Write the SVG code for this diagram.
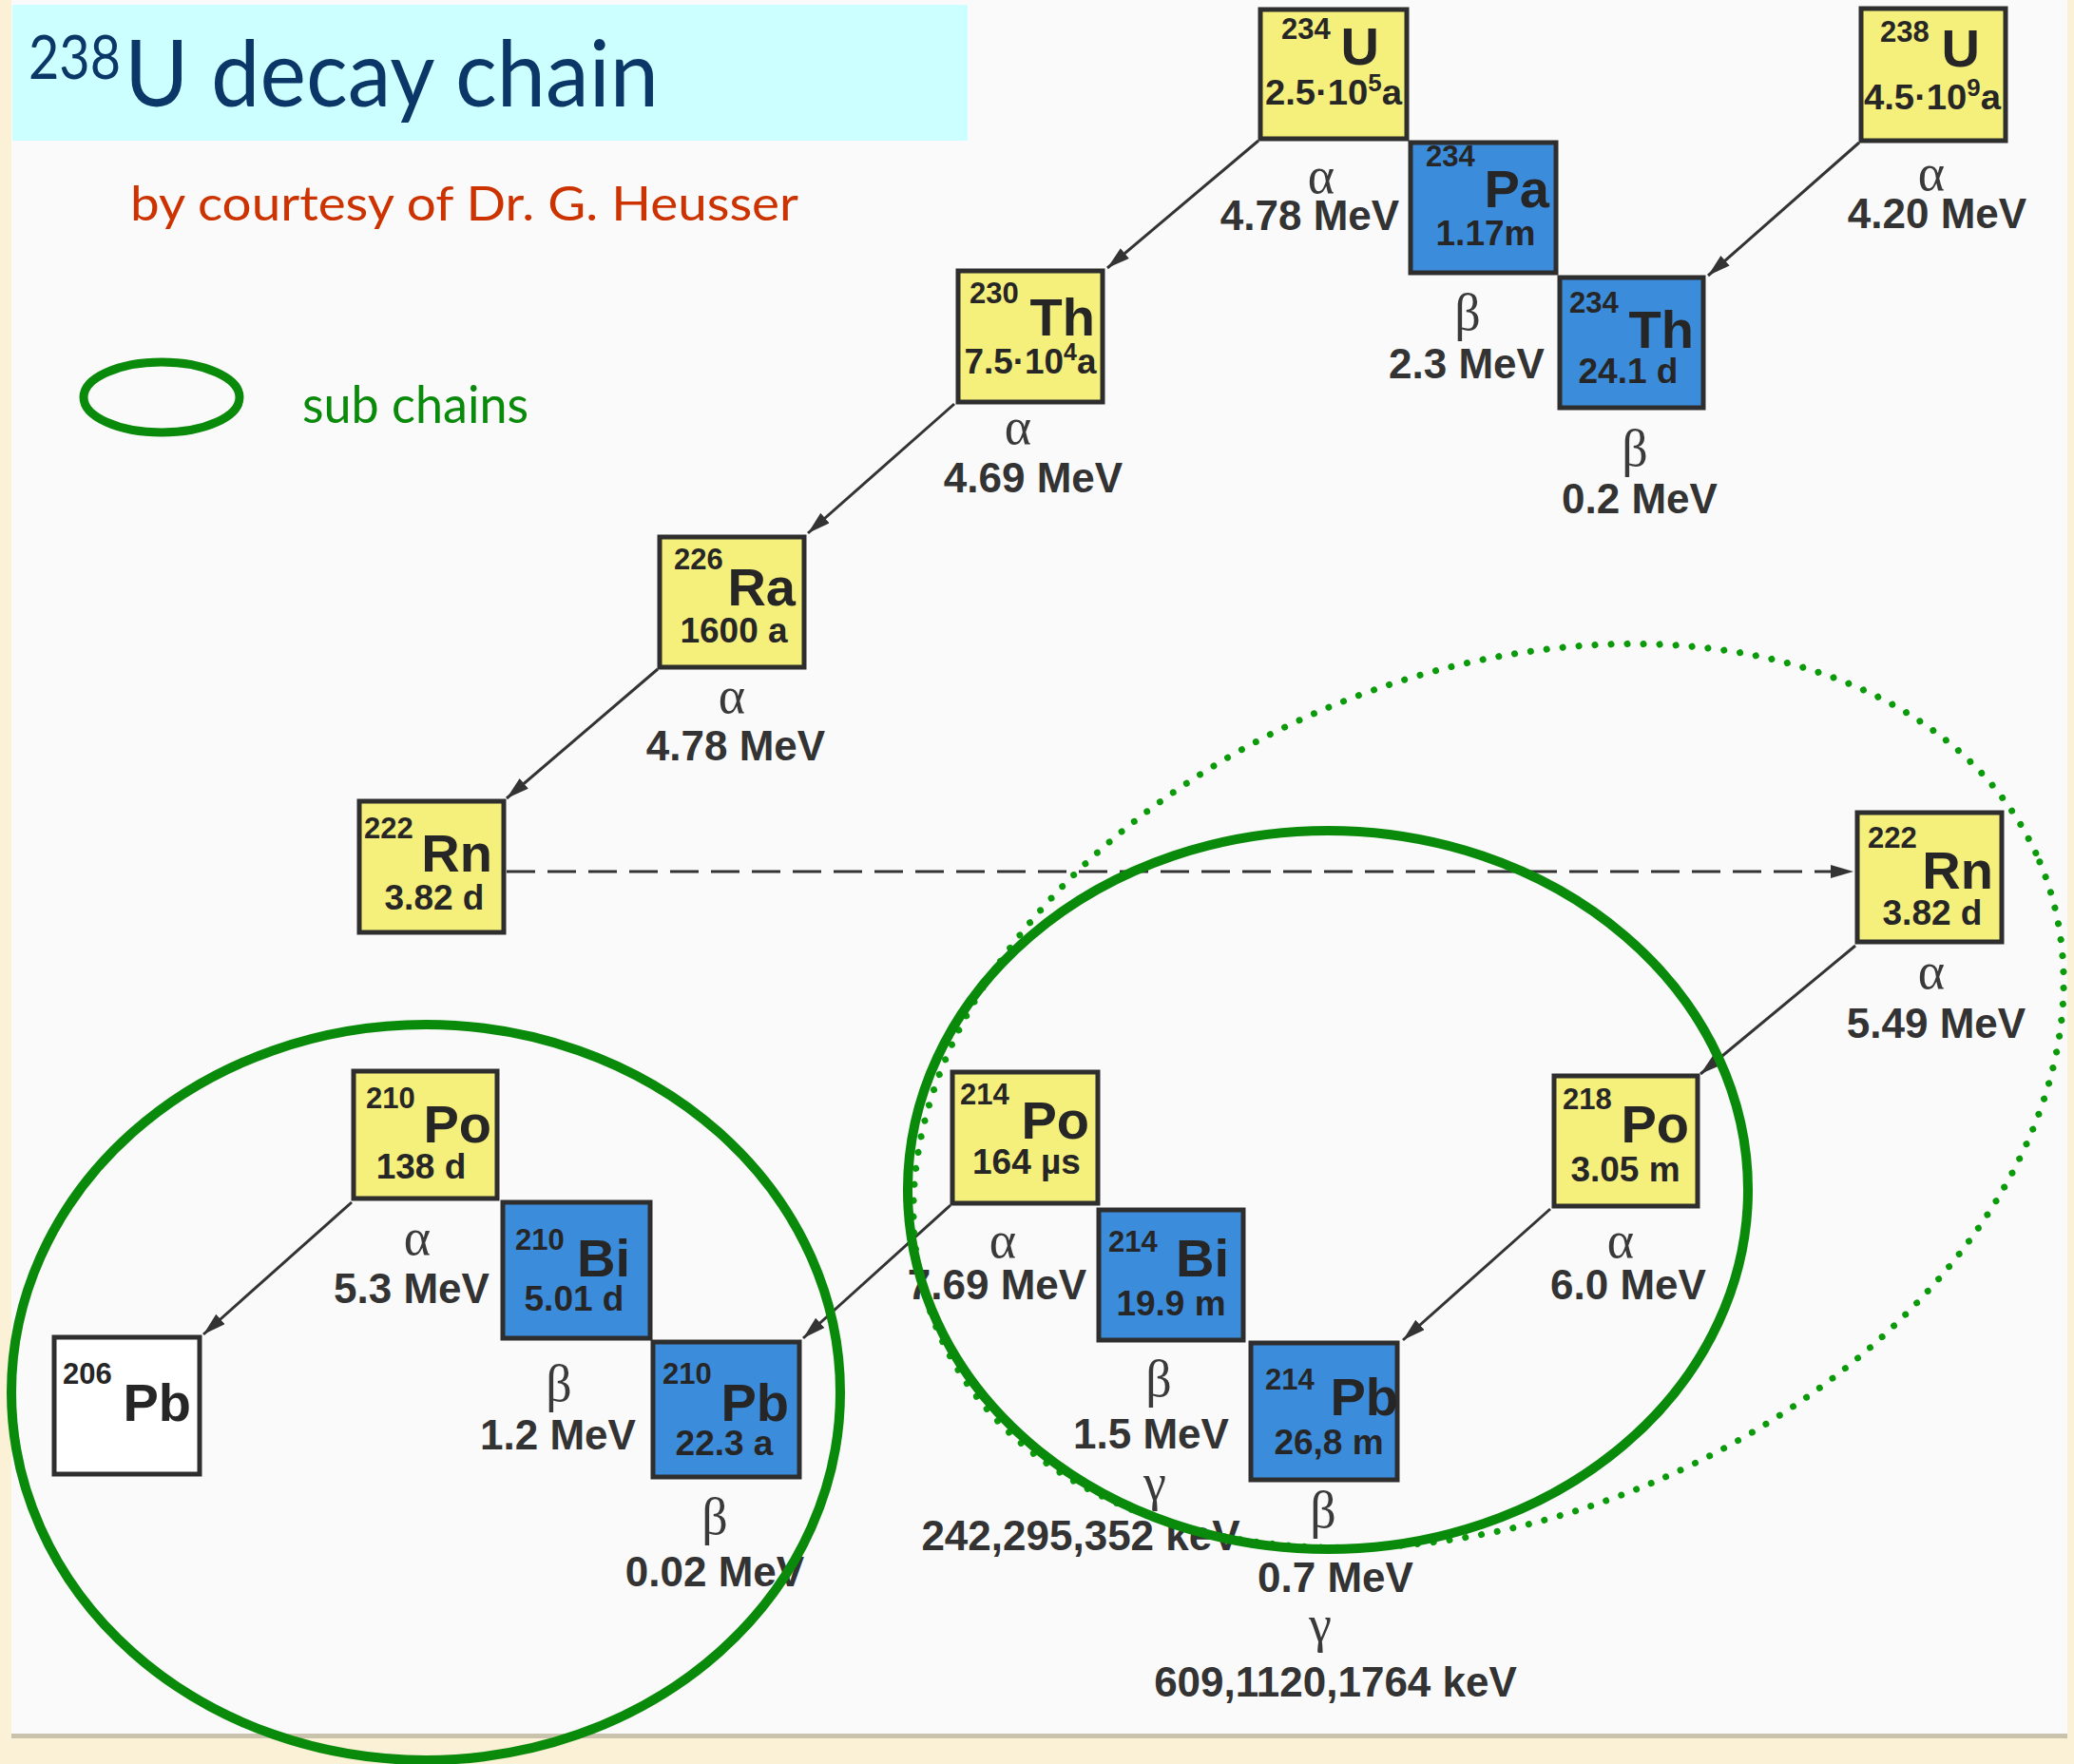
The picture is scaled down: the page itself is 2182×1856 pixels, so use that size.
<svg xmlns="http://www.w3.org/2000/svg" width="2182" height="1856" viewBox="0 0 2182 1856">
<defs>
<style>
.box{stroke:#2e2e2e;stroke-width:5}
.y{fill:#f5ef7c}
.b{fill:#3c8cdc}
.w{fill:#ffffff}
.t{font-family:"Liberation Sans",Arial,sans-serif;font-weight:bold;fill:#262626}
.sup{font-size:31px}
.sym{font-size:56px;text-anchor:end}
.hl{font-size:37px;text-anchor:middle}
.hs{font-size:25px}
.lbl{font-family:"Liberation Sans",Arial,sans-serif;font-weight:bold;font-size:44px;fill:#333;text-anchor:middle}
.gr{font-family:"Liberation Serif","Times New Roman",serif;font-size:54px;fill:#3a3a3a;text-anchor:middle}
.arr{stroke:#333;stroke-width:3;fill:none;marker-end:url(#ah)}
.dash{stroke:#333;stroke-width:3;fill:none;stroke-dasharray:30 13;marker-end:url(#ah)}
.ring{fill:none;stroke:#0a8a0a;stroke-width:10}
.dots{fill:none;stroke:#0a9a0a;stroke-width:7;stroke-linecap:round;stroke-dasharray:0 17}
</style>
<marker id="ah" markerUnits="userSpaceOnUse" markerWidth="26" markerHeight="16" refX="24" refY="7" orient="auto">
<path d="M0,0 L24,7 L0,14 z" fill="#333"/>
</marker>
</defs>

<!-- page background -->
<rect x="0" y="0" width="2182" height="1856" fill="#fbf1d6"/>
<rect x="12" y="0" width="2163" height="1824" fill="#fafafa"/>
<rect x="12" y="1824" width="2163" height="5" fill="#c9c2ad"/>

<!-- title -->
<g id="title">
<rect x="13" y="5" width="1005" height="143" fill="#ccffff"/>
<text x="30" y="83" font-family="Lato,'Open Sans',sans-serif" font-size="64" fill="#0b3768" textLength="97" lengthAdjust="spacingAndGlyphs">238</text>
<text x="131" y="112" font-family="Lato,'Open Sans',sans-serif" font-size="97" fill="#0b3768" textLength="562" lengthAdjust="spacingAndGlyphs">U decay chain</text>
</g>
<text id="credit" x="137" y="232" font-family="Lato,'Open Sans',sans-serif" font-size="50" fill="#cc3300" textLength="703" lengthAdjust="spacingAndGlyphs">by courtesy of Dr. G. Heusser</text>

<!-- legend -->
<g id="legend">
<ellipse cx="170" cy="418" rx="82" ry="37" fill="none" stroke="#0a8a0a" stroke-width="9"/>
<text x="318" y="445" font-family="Lato,'Open Sans',sans-serif" font-size="54" fill="#0a8a0a" textLength="238" lengthAdjust="spacingAndGlyphs">sub chains</text>
</g>

<!-- connectors -->
<g id="connectors">
<line class="arr" x1="1956" y1="150" x2="1797" y2="290"/>
<line class="arr" x1="1324" y1="148" x2="1165" y2="282"/>
<line class="arr" x1="1004" y1="425" x2="850" y2="561"/>
<line class="arr" x1="692" y1="704" x2="533" y2="840"/>
<line class="dash" x1="533" y1="917" x2="1950" y2="917"/>
<line class="arr" x1="1952" y1="995" x2="1789" y2="1130"/>
<line class="arr" x1="1631" y1="1272" x2="1476" y2="1410"/>
<line class="arr" x1="1000" y1="1268" x2="845" y2="1408"/>
<line class="arr" x1="370" y1="1265" x2="214" y2="1404"/>
</g>

<!-- nodes -->
<g id="n238U">
<rect class="box y" x="1958" y="9" width="152" height="139"/>
<text class="t sup" x="1978" y="44">238</text>
<text class="t sym" x="2083" y="70">U</text>
<text class="t hl" x="2033" y="115" textLength="144" lengthAdjust="spacingAndGlyphs">4.5·10<tspan class="hs" dy="-14">9</tspan><tspan dy="14">a</tspan></text>
</g>
<g id="n234U">
<rect class="box y" x="1326" y="10" width="154" height="136"/>
<text class="t sup" x="1348" y="41">234</text>
<text class="t sym" x="1451" y="68">U</text>
<text class="t hl" x="1403" y="110" textLength="144" lengthAdjust="spacingAndGlyphs">2.5·10<tspan class="hs" dy="-14">5</tspan><tspan dy="14">a</tspan></text>
</g>
<g id="n234Pa">
<rect class="box b" x="1484" y="150" width="153" height="137"/>
<text class="t sup" x="1500" y="175">234</text>
<text class="t sym" x="1630" y="218">Pa</text>
<text class="t hl" x="1563" y="258">1.17m</text>
</g>
<g id="n234Th">
<rect class="box b" x="1641" y="292" width="151" height="137"/>
<text class="t sup" x="1651" y="329">234</text>
<text class="t sym" x="1782" y="366">Th</text>
<text class="t hl" x="1713" y="403">24.1 d</text>
</g>
<g id="n230Th">
<rect class="box y" x="1008" y="285" width="152" height="138"/>
<text class="t sup" x="1020" y="319">230</text>
<text class="t sym" x="1152" y="353">Th</text>
<text class="t hl" x="1084" y="393" textLength="139" lengthAdjust="spacingAndGlyphs">7.5·10<tspan class="hs" dy="-14">4</tspan><tspan dy="14">a</tspan></text>
</g>
<g id="n226Ra">
<rect class="box y" x="694" y="565" width="152" height="137"/>
<text class="t sup" x="709" y="599">226</text>
<text class="t sym" x="837" y="637">Ra</text>
<text class="t hl" x="772" y="676">1600 a</text>
</g>
<g id="n222Rn_a">
<rect class="box y" x="378" y="843" width="152" height="138"/>
<text class="t sup" x="383" y="882">222</text>
<text class="t sym" x="518" y="917">Rn</text>
<text class="t hl" x="457" y="957">3.82 d</text>
</g>
<g id="n222Rn_b">
<rect class="box y" x="1954" y="855" width="152" height="136"/>
<text class="t sup" x="1965" y="892">222</text>
<text class="t sym" x="2097" y="935">Rn</text>
<text class="t hl" x="2033" y="973">3.82 d</text>
</g>
<g id="n218Po">
<rect class="box y" x="1635" y="1132" width="151" height="137"/>
<text class="t sup" x="1644" y="1167">218</text>
<text class="t sym" x="1777" y="1202">Po</text>
<text class="t hl" x="1710" y="1243">3.05 m</text>
</g>
<g id="n214Po">
<rect class="box y" x="1002" y="1128" width="153" height="138"/>
<text class="t sup" x="1010" y="1162">214</text>
<text class="t sym" x="1146" y="1198">Po</text>
<text class="t hl" x="1080" y="1235">164 µs</text>
</g>
<g id="n214Bi">
<rect class="box b" x="1156" y="1273" width="152" height="137"/>
<text class="t sup" x="1166" y="1317">214</text>
<text class="t sym" x="1293" y="1343">Bi</text>
<text class="t hl" x="1232" y="1384">19.9 m</text>
</g>
<g id="n214Pb">
<rect class="box b" x="1316" y="1413" width="154" height="144"/>
<text class="t sup" x="1331" y="1462">214</text>
<text class="t sym" x="1471" y="1489">Pb</text>
<text class="t hl" x="1398" y="1530">26,8 m</text>
</g>
<g id="n210Po">
<rect class="box y" x="372" y="1127" width="151" height="134"/>
<text class="t sup" x="385" y="1166">210</text>
<text class="t sym" x="517" y="1202">Po</text>
<text class="t hl" x="443" y="1240">138 d</text>
</g>
<g id="n210Bi">
<rect class="box b" x="529" y="1265" width="155" height="143"/>
<text class="t sup" x="542" y="1315">210</text>
<text class="t sym" x="663" y="1343">Bi</text>
<text class="t hl" x="604" y="1379">5.01 d</text>
</g>
<g id="n210Pb">
<rect class="box b" x="687" y="1412" width="154" height="142"/>
<text class="t sup" x="697" y="1456">210</text>
<text class="t sym" x="830" y="1495">Pb</text>
<text class="t hl" x="762" y="1531">22.3 a</text>
</g>
<g id="n206Pb">
<rect class="box w" x="57" y="1407" width="153" height="144"/>
<text class="t sup" x="66" y="1456">206</text>
<text class="t sym" x="201" y="1495">Pb</text>
</g>

<!-- decay labels -->
<g id="decay-labels">
<text class="gr" x="1390" y="203">α</text><text class="lbl" x="1378" y="242">4.78 MeV</text>
<text class="gr" x="2032" y="200">α</text><text class="lbl" x="2038" y="240">4.20 MeV</text>
<text class="gr" x="1544" y="347">β</text><text class="lbl" x="1543" y="398">2.3 MeV</text>
<text class="gr" x="1720" y="490">β</text><text class="lbl" x="1725" y="540">0.2 MeV</text>
<text class="gr" x="1071" y="467">α</text><text class="lbl" x="1087" y="518">4.69 MeV</text>
<text class="gr" x="770" y="750">α</text><text class="lbl" x="774" y="800">4.78 MeV</text>
<text class="gr" x="2032" y="1040">α</text><text class="lbl" x="2037" y="1092">5.49 MeV</text>
<text class="gr" x="1705" y="1323">α</text><text class="lbl" x="1713" y="1367">6.0 MeV</text>
<text class="gr" x="1055" y="1323">α</text><text class="lbl" x="1049" y="1367">7.69 MeV</text>
<text class="gr" x="1219" y="1469">β</text><text class="lbl" x="1211" y="1524">1.5 MeV</text>
<text class="gr" x="1215" y="1578">γ</text><text class="lbl" x="1137" y="1631">242,295,352 keV</text>
<text class="gr" x="1392" y="1607">β</text><text class="lbl" x="1405" y="1675">0.7 MeV</text>
<text class="gr" x="1389" y="1727">γ</text><text class="lbl" x="1405" y="1785">609,1120,1764 keV</text>
<text class="gr" x="439" y="1320">α</text><text class="lbl" x="433" y="1371">5.3 MeV</text>
<text class="gr" x="588" y="1474">β</text><text class="lbl" x="587" y="1525">1.2 MeV</text>
<text class="gr" x="752" y="1614">β</text><text class="lbl" x="752" y="1669">0.02 MeV</text>
</g>

<!-- sub chain rings -->
<g id="subchains">
<ellipse class="dots" cx="1566" cy="1153" rx="630" ry="442" transform="rotate(-23 1566 1153)"/>
<ellipse class="ring" cx="1397" cy="1252" rx="442" ry="378"/>
<ellipse class="ring" cx="448" cy="1465" rx="436" ry="387"/>
</g>
</svg>
